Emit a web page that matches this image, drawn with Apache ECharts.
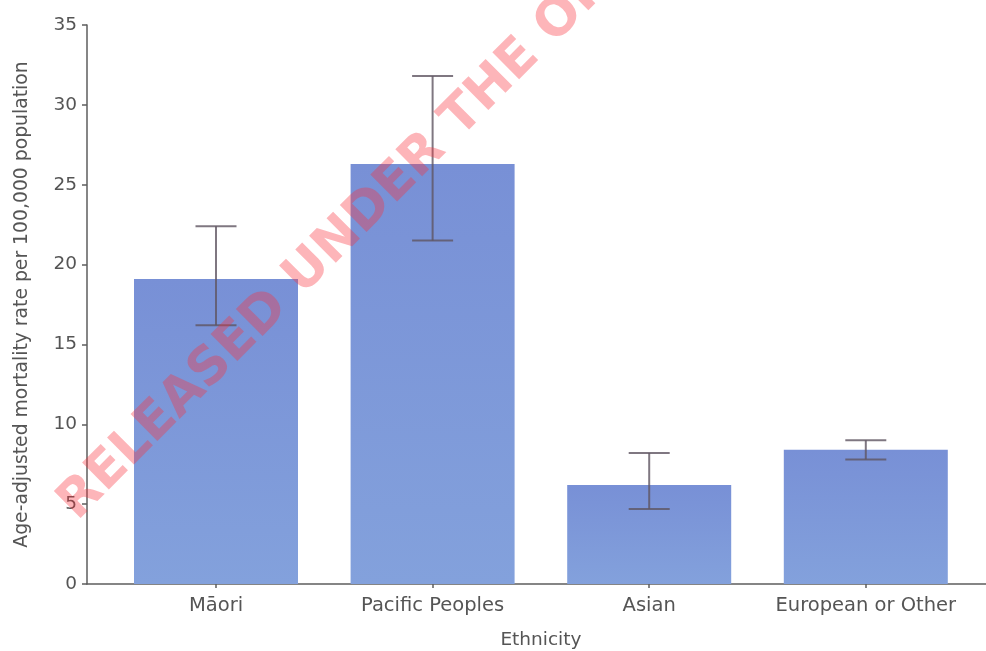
<!DOCTYPE html>
<html>
<head>
<meta charset="utf-8">
<script src="https://cdn.jsdelivr.net/npm/echarts@6/dist/echarts.min.js"></script>
<style>
  html, body { margin: 0; padding: 0; background: #fff; }
  #chart { width: 986px; height: 651px; }
</style>
</head>
<body>
<div id="chart"></div>
<script>
// Age-adjusted mortality rate by ethnicity, with 95% confidence intervals
const categories = ['Māori', 'Pacific Peoples', 'Asian', 'European or Other'];
const rates = [19.1, 26.3, 6.2, 8.4];
const ciLower = [16.2, 21.5, 4.7, 7.8];
const ciUpper = [22.4, 31.8, 8.2, 9.0];
const yMin = 0, yMax = 35, yStep = 5;

const FONT = 'DejaVu Sans';
const TEXT = '#555555';
const AXIS = '#5e5e5e';

const errorData = categories.map((c, i) => [i, ciLower[i], ciUpper[i]]);

const chart = echarts.init(document.getElementById('chart'), null, { renderer: 'canvas' });

chart.setOption({
  backgroundColor: '#ffffff',
  animation: false,
  textStyle: { fontFamily: FONT },
  grid: [
    { left: 107.7, right: 11.9, top: 25, bottom: 67, containLabel: false, outerBoundsMode: 'none' },
    { left: 87, right: 0, top: 25, bottom: 67, containLabel: false, outerBoundsMode: 'none' }
  ],
  xAxis: [
    {
      type: 'category',
      gridIndex: 0,
      data: categories,
      boundaryGap: true,
      name: 'Ethnicity',
      nameLocation: 'middle',
      nameGap: 47,
      nameTextStyle: { fontFamily: FONT, fontSize: 18.5, color: TEXT },
      axisLine: { show: false },
      axisTick: { show: true, alignWithLabel: true, length: 4, lineStyle: { color: AXIS, width: 1.5 } },
      axisLabel: { interval: 0, fontFamily: FONT, fontSize: 19.5, color: TEXT, margin: 12 },
      splitLine: { show: false }
    },
    {
      // baseline spanning the full plot width
      type: 'value',
      gridIndex: 1,
      min: 0,
      max: 1,
      axisLine: { show: true, onZero: false, lineStyle: { color: AXIS, width: 1.5 } },
      axisTick: { show: false },
      axisLabel: { show: false },
      splitLine: { show: false }
    }
  ],
  yAxis: [
    {
      type: 'value',
      gridIndex: 0,
      min: yMin,
      max: yMax,
      interval: yStep,
      offset: 20.7,
      name: 'Age-adjusted mortality rate per 100,000 population',
      nameLocation: 'middle',
      nameRotate: 90,
      nameGap: 55,
      nameTextStyle: { fontFamily: FONT, fontSize: 18.8, color: TEXT },
      axisLine: { show: true, lineStyle: { color: AXIS, width: 1.5 } },
      axisTick: { show: true, inside: false, length: 5, lineStyle: { color: AXIS, width: 1.5 } },
      axisLabel: { fontFamily: FONT, fontSize: 18.5, color: TEXT, margin: 10 },
      splitLine: { show: false }
    },
    {
      type: 'value',
      gridIndex: 1,
      min: 0,
      max: 1,
      show: false
    }
  ],
  series: [
    {
      type: 'bar',
      xAxisIndex: 0,
      yAxisIndex: 0,
      data: rates,
      barWidth: 164,
      itemStyle: {
        color: new echarts.graphic.LinearGradient(0, 0, 0, 1, [
          { offset: 0, color: '#7890d6' },
          { offset: 1, color: '#83a1dc' }
        ])
      },
      z: 2
    },
    {
      type: 'custom',
      xAxisIndex: 0,
      yAxisIndex: 0,
      data: errorData,
      z: 3,
      renderItem: function (params, api) {
        const x = api.value(0);
        const lo = api.coord([x, api.value(1)]);
        const hi = api.coord([x, api.value(2)]);
        const half = 20.5;
        const style = { stroke: 'rgba(95,85,98,0.8)', lineWidth: 2, fill: null };
        return {
          type: 'group',
          children: [
            { type: 'line', shape: { x1: hi[0], y1: hi[1], x2: lo[0], y2: lo[1] }, style: style },
            { type: 'line', shape: { x1: hi[0] - half, y1: hi[1], x2: hi[0] + half, y2: hi[1] }, style: style },
            { type: 'line', shape: { x1: lo[0] - half, y1: lo[1], x2: lo[0] + half, y2: lo[1] }, style: style }
          ]
        };
      }
    }
  ],
  graphic: [
    {
      type: 'text',
      x: 86,
      y: 530,
      rotation: Math.PI / 4,
      z: 100,
      silent: true,
      style: {
        text: 'RELEASED UNDER THE OFFICIAL INFORMATION ACT',
        fontFamily: 'DejaVu Sans',
        fontWeight: 'bold',
        fontSize: 52,
        fill: 'rgba(250,50,60,0.36)',
        align: 'left',
        verticalAlign: 'bottom'
      }
    }
  ]
});
</script>
</body>
</html>
